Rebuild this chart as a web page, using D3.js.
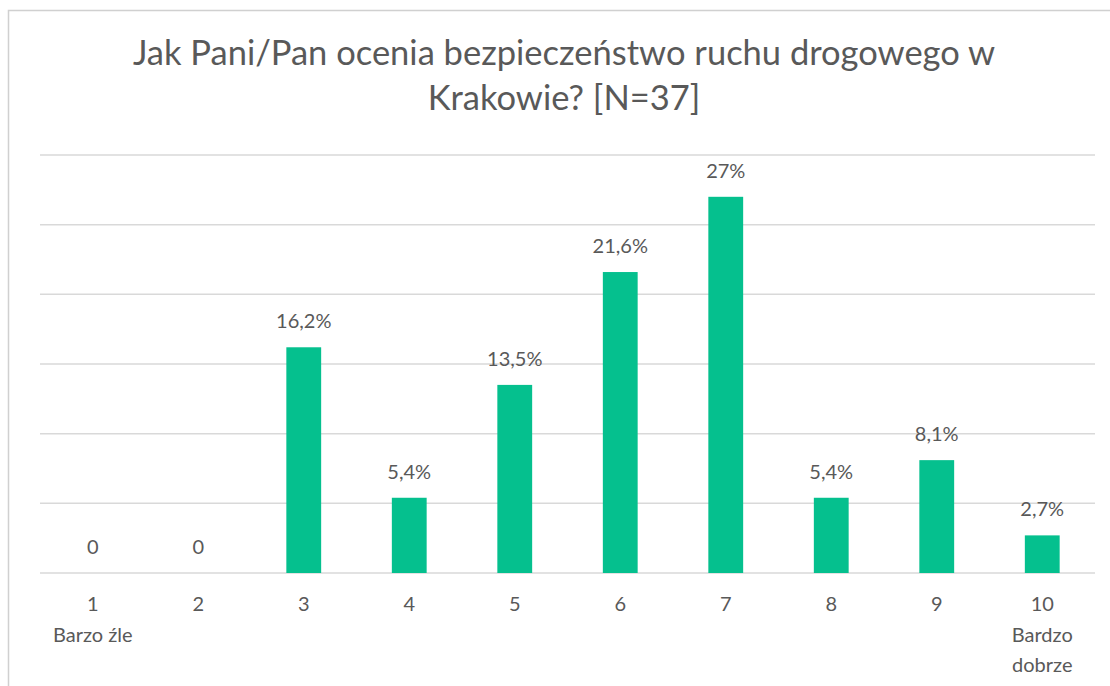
<!DOCTYPE html>
<html><head><meta charset="utf-8">
<script src="https://cdn.jsdelivr.net/npm/d3@7"></script>
<style>html,body{margin:0;padding:0;background:#fff;}svg{display:block;}</style>
</head><body>
<svg id="c" width="1110" height="686"></svg>
<script>
const categories = ["1","2","3","4","5","6","7","8","9","10"];
const subLabels = [["Barzo źle"],[],[],[],[],[],[],[],[],["Bardzo","dobrze"]];
const values = [0,0,16.2,5.4,13.5,21.6,27,5.4,8.1,2.7];
const valueLabels = ["0","0","16,2%","5,4%","13,5%","21,6%","27%","5,4%","8,1%","2,7%"];
const yTicks = [0,5,10,15,20,25,30];
const titleLines = ["Jak Pani/Pan ocenia bezpieczeństwo ruchu drogowego w","Krakowie? [N=37]"];

const svg = d3.select("#c");
const font = "Lato, 'Noto Sans', sans-serif";
const grey = "#595959";

// frame
svg.append("rect").attr("x",8.5).attr("y",10.5).attr("width",1200).attr("height",800)
  .attr("fill","none").attr("stroke","#d0d0d0").attr("stroke-width",1.5);

const x = d3.scaleBand().domain(categories).range([40,1095]).paddingInner(0.67).paddingOuter(0.335);
const y = d3.scaleLinear().domain([0,30]).range([573,155]);

svg.append("g").selectAll("line").data(yTicks).join("line")
  .attr("x1",40).attr("x2",1095).attr("y1",d=>y(d)).attr("y2",d=>y(d))
  .attr("stroke","#d9d9d9").attr("stroke-width",1.5);

svg.append("g").selectAll("rect").data(values).join("rect")
  .attr("x",(d,i)=>x(categories[i])).attr("width",x.bandwidth())
  .attr("y",d=>y(d)).attr("height",d=>y(0)-y(d)).attr("fill","#05c08e");

svg.append("g").selectAll("text").data(values).join("text")
  .attr("x",(d,i)=>x(categories[i])+x.bandwidth()/2).attr("y",d=>y(d)-19)
  .attr("text-anchor","middle").attr("font-family",font).attr("font-size",20).attr("fill",grey)
  .text((d,i)=>valueLabels[i]);

const ax = svg.append("g").attr("transform","translate(0,573)")
  .call(d3.axisBottom(x).tickSize(0).tickPadding(0));
ax.select(".domain").remove();
ax.selectAll(".tick text").remove();
ax.selectAll(".tick").each(function(d,i){
  const g = d3.select(this);
  const lines = [categories[i]].concat(subLabels[i]);
  g.selectAll("text.l").data(lines).join("text").attr("class","l")
    .attr("y",(l,j)=>38+j*30.5).attr("text-anchor","middle")
    .attr("font-family",font).attr("font-size",20).attr("fill",grey).text(l=>l);
});

svg.append("g").selectAll("text").data(titleLines).join("text")
  .attr("x",564).attr("y",(d,i)=>65+i*45).attr("text-anchor","middle")
  .attr("font-family",font).attr("font-size",34.5).attr("fill",grey).text(d=>d);
</script>
</body></html>
